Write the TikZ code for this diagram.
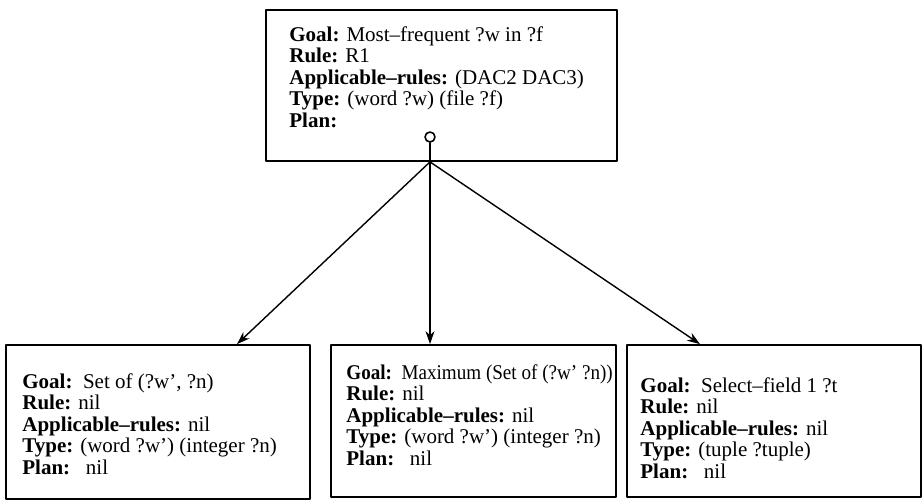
\documentclass[tikz,border=0pt]{standalone}
\usepackage{fontspec}
\setmainfont{Liberation Serif}
\usepackage{graphicx}
\usepackage{tikz}
\usetikzlibrary{arrows.meta}

\tikzset{
  box/.style={draw,line width=0.9pt,inner sep=0pt},
  slots/.style={anchor=north west,inner sep=0pt,align=left,
    font=\fontsize{10.5}{10.75}\selectfont},
  plan/.style={draw,circle,line width=0.8pt,minimum size=5pt,inner sep=0pt}
}

\begin{document}
\begin{tikzpicture}[line cap=round,line join=round,>={Stealth[length=6.5pt,width=4.5pt]},x=0.5pt,y=-0.5pt]
\useasboundingbox (0,0) rectangle (924,499);

% top goal
\node[box,minimum width=175.5pt,minimum height=75.5pt] (top) at (441.5,85.5) {};
\node[slots] (ttop) at (289,26) {\textbf{Goal:} Most--frequent ?w in ?f\\
\textbf{Rule:} R1\\
\textbf{Applicable--rules:} (DAC2 DAC3)\\
\textbf{Type:} (word ?w) (file ?f)\\
\textbf{Plan:}};
\node[plan] (p) at (430,137) {};
\coordinate (hub) at (p |- top.south);
\draw[line width=0.9pt] (p) -- (hub);

% subgoals
\node[box,minimum width=152pt,minimum height=77pt] (b1) at (158,422) {};
\node[box,minimum width=142.5pt,minimum height=76pt] (b2) at (473.5,421) {};
\node[box,minimum width=147pt,minimum height=76pt] (b3) at (774,421) {};

\node[slots] (t1) at (22,373) {\textbf{Goal:}\ \ Set of (?w’, ?n)\\
\textbf{Rule:} nil\\
\textbf{Applicable--rules:} nil\\
\textbf{Type:} (word ?w’) (integer ?n)\\
\textbf{Plan:}\ \ \ nil};
\node[slots] (t2) at (346,364) {\scalebox{0.91}[1]{\textbf{Goal:}\ \ Maximum (Set of (?w’ ?n))}\\
\textbf{Rule:} nil\\
\textbf{Applicable--rules:} nil\\
\textbf{Type:} (word ?w’) (integer ?n)\\
\textbf{Plan:}\ \ \ nil};
\node[slots] (t3) at (640,377) {\textbf{Goal:}\ \ Select--field 1 ?t\\
\textbf{Rule:} nil\\
\textbf{Applicable--rules:} nil\\
\textbf{Type:} (tuple ?tuple)\\
\textbf{Plan:}\ \ \ nil};

\draw[->,line width=0.7pt] (hub) -- ([xshift=39.5pt]b1.north);
\draw[->,line width=0.7pt] (hub) -- (hub |- b2.north);
\draw[->,line width=0.7pt] (hub) -- ([xshift=-37pt]b3.north);

\end{tikzpicture}
\end{document}
